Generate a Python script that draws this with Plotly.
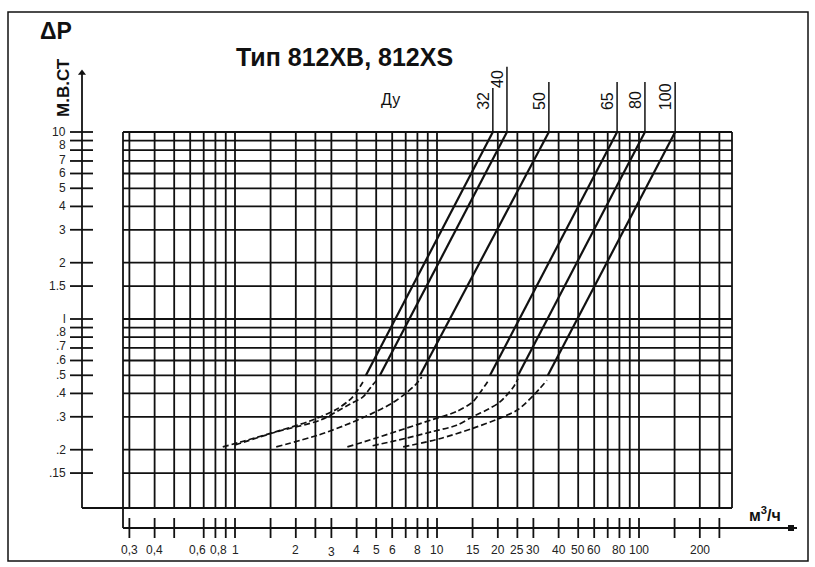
import math
import plotly.graph_objects as go

# ---------------- data ----------------
DN = ["32", "40", "50", "65", "80", "100"]
Q_SOLID_LOW = [4.45, 5.22, 8.24, 18.3, 25.2, 35.4]       # м3/ч at ΔP = 0.5
Q_SOLID_HIGH = [18.9, 22.2, 35.8, 77.9, 107.0, 151.0]    # м3/ч at ΔP = 10
DP_SOLID = [0.5, 10.0]
DP_LEADER_TOP = [17.2, 22.3, 18.5, 18.5, 18.5, 18.5]

Q_DASH = [
    [0.87, 1.1, 1.6, 2.35, 3.2, 3.8, 4.3],
    [1.0, 1.6, 2.64, 3.7, 4.3, 4.8, 5.05],
    [1.6, 2.6, 3.5, 4.7, 6.0, 7.0, 7.9, 8.4],
    [3.6, 5.0, 7.0, 9.5, 12.5, 15.0, 16.5, 18.0],
    [4.8, 7.0, 9.5, 12.5, 15.0, 18.0, 20.5, 23.8, 25.2],
    [6.8, 10.3, 15.0, 20.5, 25.0, 30.0, 35.0],
]
DP_DASH = [
    [0.207, 0.222, 0.25, 0.285, 0.33, 0.38, 0.46],
    [0.212, 0.249, 0.288, 0.35, 0.383, 0.444, 0.472],
    [0.207, 0.24, 0.27, 0.31, 0.355, 0.40, 0.45, 0.49],
    [0.207, 0.231, 0.26, 0.29, 0.32, 0.36, 0.41, 0.47],
    [0.21, 0.23, 0.25, 0.27, 0.30, 0.33, 0.36, 0.43, 0.48],
    [0.207, 0.229, 0.26, 0.295, 0.326, 0.39, 0.47],
]

X_GRID = [0.3, 0.4, 0.5, 0.6, 0.7, 0.8, 0.9, 1, 1.5, 2, 2.5, 3, 4, 5, 6, 7, 8, 9, 10,
          15, 20, 25, 30, 40, 50, 60, 70, 80, 90, 100, 150, 200, 250]
X_TICKS = [0.3, 0.4, 0.5, 0.7, 0.8, 0.9, 1, 1.5, 2, 2.5, 3, 4, 5, 6, 7, 8, 9, 10,
           15, 20, 25, 30, 40, 50, 60, 70, 80, 90, 100, 150, 200, 250]
X_LABEL_POS = [0.3, 0.4, 0.65, 0.83, 1, 2, 3, 4, 5, 6, 8, 10, 15, 20, 25, 30, 40, 50, 60, 80, 100, 200]
X_LABELS = ["0,3", "0,4", "0,6", "0,8", "1", "2", "3", "4", "5", "6", "8", "10",
            "15", "20", "25", "30", "40", "50", "60", "80", "100", "200"]

Y_GRID = [0.15, 0.2, 0.3, 0.4, 0.5, 0.6, 0.7, 0.8, 0.9, 1, 1.5, 2, 3, 4, 5, 6, 7, 8, 9, 10]
Y_LABEL_POS = [10, 8.5, 7.1, 6, 5, 4, 3, 2, 1.5, 1, 0.85, 0.72, 0.6, 0.5, 0.4, 0.3, 0.2, 0.15]
Y_LABELS = ["10", "8", "7", "6", "5", "4", "3", "2", "1.5", "l", ".8", ".7", ".6", ".5",
            ".4", ".3", ".2", ".15"]

# ---------------- pixel <-> data helpers (layout only) ----------------
W, H = 815, 567
PX_X1, PX_PER_DEC_X = 235.0, 202.0     # pixel of Q = 1, pixels per decade
PY_Y10, PX_PER_DEC_Y = 132.0, 187.0    # pixel of ΔP = 10, pixels per decade


def lx(px):
    return (px - PX_X1) / PX_PER_DEC_X


def ly(py):
    return 1 - (py - PY_Y10) / PX_PER_DEC_Y


def qx(px):
    return 10 ** lx(px)


def dy(py):
    return 10 ** ly(py)


INK = "#111111"
FONT = "Liberation Sans, Arial, sans-serif"

fig = go.Figure()


def seglines(segs, width, color=INK, dash=None):
    xs, ys = [], []
    for (x0, y0, x1, y1) in segs:
        xs += [x0, x1, None]
        ys += [y0, y1, None]
    fig.add_trace(go.Scatter(x=xs, y=ys, mode="lines",
                             line=dict(color=color, width=width, dash=dash),
                             hoverinfo="skip", showlegend=False))


# grid
g_left, g_right = qx(123), qx(732)
g_bottom, g_top = dy(508), 10
segs = [(q, g_bottom, q, g_top) for q in X_GRID]
segs += [(g_left, p, g_right, p) for p in Y_GRID]
segs += [(g_right, g_bottom, g_right, g_top)]
segs += [(g_left, dy(528), g_left, g_top)]
segs += [(qx(82), g_bottom, g_right, g_bottom)]
seglines(segs, 1.8)

# y axis with ticks
segs = [(qx(82), g_bottom, qx(82), dy(74))]
segs += [(qx(70), p, qx(93), p) for p in Y_GRID]
seglines(segs, 1.8)
fig.add_trace(go.Scatter(x=[qx(82)], y=[dy(73)], mode="markers",
                         marker=dict(symbol="triangle-up", size=7, color=INK),
                         hoverinfo="skip", showlegend=False))

# x axis with ticks
segs = [(g_left, dy(528), qx(797), dy(528))]
segs += [(q, dy(518), q, dy(538)) for q in X_TICKS]
seglines(segs, 1.8)
fig.add_trace(go.Scatter(x=[qx(791)], y=[dy(528)], mode="markers",
                         marker=dict(symbol="square", size=6, color=INK),
                         hoverinfo="skip", showlegend=False))

# curves
for i, dn in enumerate(DN):
    fig.add_trace(go.Scatter(x=Q_DASH[i], y=DP_DASH[i], mode="lines",
                             line=dict(color=INK, width=1.7, dash="6px,3px", shape="spline",
                                       smoothing=0.8),
                             name="Ду " + dn + " (переходный)", showlegend=False))
    fig.add_trace(go.Scatter(x=[Q_SOLID_LOW[i], Q_SOLID_HIGH[i]], y=DP_SOLID, mode="lines",
                             line=dict(color=INK, width=2.2),
                             name="Ду " + dn, showlegend=False))
    fig.add_trace(go.Scatter(x=[Q_SOLID_HIGH[i], Q_SOLID_HIGH[i]],
                             y=[DP_SOLID[-1], DP_LEADER_TOP[i]], mode="lines",
                             line=dict(color=INK, width=1.5),
                             hoverinfo="skip", showlegend=False))

# frame
frame_shape = dict(type="rect", xref="paper", yref="paper",
                   x0=8 / W, x1=808 / W, y0=1 - 561 / H, y1=1 - 12 / H,
                   line=dict(color=INK, width=1.5))

ann = []
for q, t in zip(X_LABEL_POS, X_LABELS):
    ann.append(dict(x=math.log10(q), y=ly(550 if t != "3" else 552), text=t, showarrow=False,
                    font=dict(size=12, color="#222", family=FONT)))
for p, t in zip(Y_LABEL_POS, Y_LABELS):
    ann.append(dict(x=lx(68), y=math.log10(p), text=t, showarrow=False, xanchor="right",
                    font=dict(size=12, color="#222", family=FONT)))

label_py = [101, 79, 101, 101, 100, 97]
for i, dn in enumerate(DN):
    ann.append(dict(x=math.log10(Q_SOLID_HIGH[i]), y=ly(label_py[i]), xshift=-10,
                    text=dn, textangle=-90, showarrow=False,
                    font=dict(size=16, color=INK, family=FONT)))

ann += [
    dict(x=lx(56), y=ly(31), text="<b>ΔP</b>", showarrow=False,
         font=dict(size=23, color=INK, family=FONT)),
    dict(x=lx(63), y=ly(88), text="<b>М.В.СТ</b>", textangle=-90, showarrow=False,
         font=dict(size=17, color=INK, family=FONT)),
    dict(x=lx(344), y=ly(57), text="<b>Тип 812XB, 812XS</b>", showarrow=False,
         font=dict(size=25, color=INK, family=FONT)),
    dict(x=lx(390), y=ly(99), text="Ду", showarrow=False,
         font=dict(size=16, color=INK, family=FONT)),
    dict(x=lx(765), y=ly(514), text="<b>м<sup>3</sup>/ч</b>", showarrow=False,
         font=dict(size=16, color=INK, family=FONT)),
]

fig.update_layout(
    width=W, height=H,
    margin=dict(l=0, r=0, t=0, b=0),
    paper_bgcolor="white", plot_bgcolor="white",
    xaxis=dict(type="log", range=[lx(0), lx(W)], visible=False, fixedrange=True),
    yaxis=dict(type="log", range=[ly(H), ly(0)], visible=False, fixedrange=True),
    shapes=[frame_shape],
    annotations=ann,
    showlegend=False,
)

fig.write_html("out.html", config={"displayModeBar": False},
               post_script="document.body.style.margin='0px';document.body.style.overflow='hidden';")
